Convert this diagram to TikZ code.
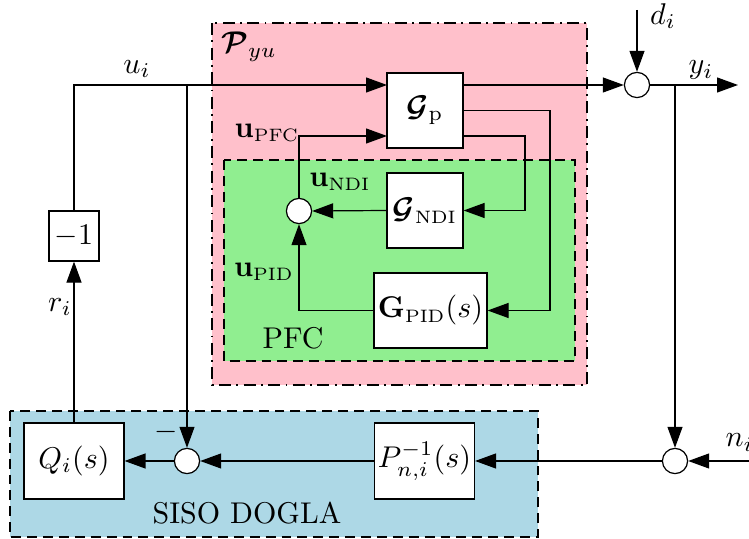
\documentclass[tikz,border=0pt]{standalone}
\usepackage{amsmath,bm}
\usetikzlibrary{arrows.meta}
\definecolor{pinkbg}{RGB}{255,192,203}
\definecolor{greenbg}{RGB}{144,238,144}
\definecolor{bluebg}{RGB}{173,216,230}
\newcommand{\subtxt}[1]{\text{\fontsize{6}{7}\selectfont #1}}
\begin{document}
\begin{tikzpicture}[x=0.33333pt,y=-0.33333pt,
  blk/.style={draw,fill=white,inner sep=0pt},
  sumc/.style={draw,circle,fill=white,minimum size=8.4pt,inner sep=0pt},
  arr/.style={-{Triangle[length=7pt,width=5pt]}},
  lbl/.style={inner sep=0pt},
  bgpink/.style={draw,fill=pinkbg,dash pattern=on 4pt off 1.8pt on 0.6pt off 1.8pt},
  bggreen/.style={draw,fill=greenbg,dash pattern=on 3.3pt off 2pt},
  bgblue/.style={draw,fill=bluebg,dash pattern=on 3.3pt off 2pt}]
\useasboundingbox (0,0) rectangle (749,539);
% backgrounds
\draw[bgpink] (212,23) rectangle (587,385);
\draw[bggreen] (224,160) rectangle (575,361);
\draw[bgblue] (10,411) rectangle (538,537);
% blocks
\node[blk,minimum width=25.33pt,minimum height=25pt] (Gp) at (425,110.5) {$\bm{\mathcal{G}}_{\mathrm{p}}$};
\node[blk,minimum width=25.33pt,minimum height=25pt] (Gndi) at (425,210.5) {$\bm{\mathcal{G}}_{\subtxt{NDI}}$};
\node[blk,minimum width=37.67pt,minimum height=25pt] (Gpid) at (430.5,310.5) {$\mathbf{G}_{\subtxt{PID}}(s)$};
\node[blk,minimum width=16.67pt,minimum height=16.67pt] (m1) at (74,236) {$-1$};
\node[blk,minimum width=33.33pt,minimum height=25.33pt] (Q) at (74,461) {$Q_i(s)$};
\node[blk,minimum width=33.33pt,minimum height=25.33pt] (Pinv) at (424.5,461) {$P_{n,i}^{-1}(s)$};
% summing junctions
\node[sumc] (s1) at (299,211) {};
\node[sumc] (s2) at (637,85) {};
\node[sumc] (s3) at (187,461) {};
\node[sumc] (s4) at (675,461) {};
% free ends
\coordinate (dtop) at (637,10);
\coordinate (yend) at (738,85);
\coordinate (nstart) at (770,461);
\coordinate (bu) at (187,85);
\coordinate (by) at (675,85);
\coordinate (gin1) at (387,85);
\coordinate (gin2) at (387,136);
\coordinate (gout1) at (463,85);
\coordinate (gout2) at (463,110.5);
\coordinate (gout3) at (463,136);
% connectors
\draw[arr] (m1.north) |- (gin1);
\draw[arr] (bu) -- (s3.north);
\draw[arr] (gout1) -- (s2.west);
\draw[arr] (dtop) -- (s2.north);
\draw[arr] (s2.east) -- (yend);
\draw[arr] (by) -- (s4.north);
\draw[arr] (nstart) -- (s4.east);
\draw[arr] (s4.west) -- (Pinv.east);
\draw[arr] (Pinv.west) -- (s3.east);
\draw[arr] (s3.west) -- (Q.east);
\draw[arr] (Q.north) -- (m1.south);
\draw[arr] (gout2) -- (550,110.5) |- (Gpid.east);
\draw[arr] (gout3) -- (525,136) |- (Gndi.east);
\draw[arr] (Gndi.west) -- (s1.east);
\draw[arr] (Gpid.west) -| (s1.south);
\draw[arr] (s1.north) |- (gin2);
% labels
\node[lbl] (lPyu) at (249,47) {$\bm{\mathcal{P}}_{yu}$};
\node[lbl] (lupfc) at (267,133) {$\mathbf{u}_{\subtxt{PFC}}$};
\node[lbl] (lundi) at (340,182) {$\mathbf{u}_{\subtxt{NDI}}$};
\node[lbl] (lupid) at (264,272) {$\mathbf{u}_{\subtxt{PID}}$};
\node[lbl] (lpfc) at (293,338) {PFC};
\node[lbl] (lsiso) at (247,513) {SISO DOGLA};
\node[lbl] (lui) at (137,69) {$u_i$};
\node[lbl] (lri) at (60,307) {$r_i$};
\node[lbl] (lminus) at (166,432) {$-$};
\node[lbl] (ldi) at (663,16) {$d_i$};
\node[lbl] (lyi) at (701,70) {$y_i$};
\node[lbl,anchor=base west] (lni) at (725,447) {$n_i$};
\end{tikzpicture}
\end{document}
